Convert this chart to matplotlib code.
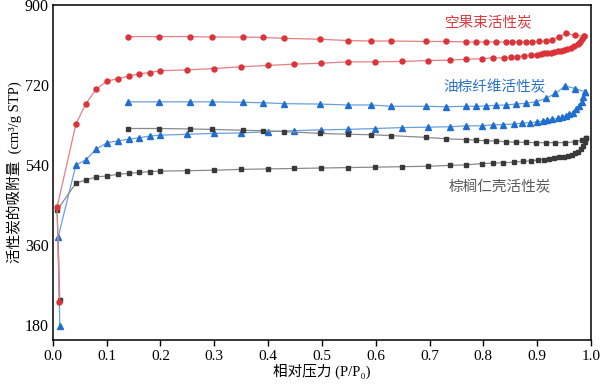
import matplotlib
matplotlib.use("Agg")
import matplotlib.pyplot as plt

# ---------------- data ----------------
red_ads_x = [0.012, 0.008, 0.043, 0.061, 0.081, 0.101, 0.121, 0.141, 0.160, 0.180, 0.200, 0.250, 0.299,
             0.350, 0.399, 0.449, 0.499, 0.548, 0.599, 0.648, 0.698, 0.738, 0.768, 0.797, 0.817,
             0.839, 0.851, 0.863, 0.876, 0.888, 0.899, 0.907, 0.913, 0.919, 0.925, 0.931, 0.938,
             0.944, 0.950, 0.956, 0.962, 0.968, 0.975, 0.980, 0.984, 0.987]
red_ads_y = [231, 445, 632, 677, 711, 729, 734, 740, 745, 748, 752, 754, 757,
             761, 764, 767, 769, 772, 772, 773, 775, 776, 778, 779, 781,
             781, 782, 784, 785, 787, 788, 790, 791, 792, 793, 794, 796,
             797, 799, 801, 804, 808, 812, 817, 823, 830]
red_des_x = [0.139, 0.197, 0.254, 0.295, 0.353, 0.391, 0.429, 0.497, 0.548, 0.591, 0.628, 0.693, 0.730,
             0.768, 0.786, 0.805, 0.823, 0.842, 0.854, 0.866, 0.879, 0.891, 0.904, 0.916, 0.928,
             0.941, 0.953, 0.970, 0.987]
red_des_y = [829, 829, 829, 828, 828, 827, 825, 823, 820, 819, 819, 818, 818,
             817, 817, 817, 817, 817, 817, 817, 817, 817, 818, 819, 822,
             829, 836, 832, 830]

blue_ads_x = [0.013, 0.010, 0.043, 0.061, 0.081, 0.101, 0.121, 0.141, 0.160, 0.180, 0.200, 0.250, 0.299,
              0.350, 0.399, 0.449, 0.499, 0.548, 0.599, 0.648, 0.698, 0.738, 0.768, 0.797, 0.817,
              0.837, 0.857, 0.871, 0.886, 0.900, 0.911, 0.919, 0.928, 0.938, 0.946, 0.953, 0.960,
              0.967, 0.973, 0.978, 0.983, 0.986, 0.988]
blue_ads_y = [177, 378, 540, 551, 576, 590, 594, 598, 601, 605, 607, 609, 611,
              612, 615, 617, 619, 620, 622, 624, 625, 626, 628, 628, 630,
              631, 632, 634, 635, 637, 639, 641, 643, 645, 647, 650, 654,
              658, 665, 673, 682, 694, 705]
blue_des_x = [0.139, 0.197, 0.254, 0.295, 0.353, 0.391, 0.429, 0.497, 0.548, 0.591, 0.628, 0.693, 0.730,
              0.768, 0.786, 0.805, 0.823, 0.842, 0.860, 0.879, 0.897, 0.916, 0.934, 0.952, 0.970, 0.988]
blue_des_y = [682, 682, 682, 682, 681, 680, 678, 677, 675, 675, 672, 672, 671,
              672, 672, 673, 674, 675, 677, 679, 682, 690, 701, 718, 712, 705]

black_ads_x = [0.013, 0.008, 0.043, 0.061, 0.081, 0.101, 0.121, 0.141, 0.160, 0.180, 0.200, 0.250, 0.299,
               0.350, 0.399, 0.449, 0.499, 0.548, 0.599, 0.648, 0.698, 0.738, 0.768, 0.797, 0.817,
               0.837, 0.857, 0.873, 0.888, 0.902, 0.913, 0.922, 0.931, 0.941, 0.950, 0.958, 0.965,
               0.971, 0.976, 0.981, 0.985, 0.988, 0.990]
black_ads_y = [236, 438, 499, 506, 513, 515, 519, 521, 523, 525, 526, 527, 528,
               530, 531, 532, 533, 534, 535, 536, 537, 539, 540, 543, 544,
               545, 546, 548, 549, 551, 552, 554, 555, 557, 558, 561, 563,
               566, 570, 575, 582, 592, 600]
black_des_x = [0.139, 0.197, 0.254, 0.295, 0.353, 0.391, 0.429, 0.497, 0.548, 0.591, 0.628, 0.693, 0.730,
               0.768, 0.786, 0.805, 0.823, 0.842, 0.860, 0.879, 0.897, 0.916, 0.934, 0.952, 0.970,
               0.983, 0.990]
black_des_y = [622, 622, 621, 620, 618, 617, 615, 611, 609, 608, 606, 602, 599,
               597, 596, 594, 594, 592, 591, 591, 590, 590, 590, 590, 592,
               596, 600]

labels = ["空果束活性炭", "油棕纤维活性炭", "棕榈仁壳活性炭"]
x_ticks = [0.0, 0.1, 0.2, 0.3, 0.4, 0.5, 0.6, 0.7, 0.8, 0.9, 1.0]
y_ticks = [180, 360, 540, 720, 900]

# ---------------- plot ----------------
serif = ["Liberation Serif", "Noto Sans CJK SC", "DejaVu Serif"]
cjk = ["Noto Sans CJK SC", "DejaVu Sans"]

fig = plt.figure(figsize=(6.0, 3.88), dpi=100)
ax = fig.add_axes([0.088, 0.124, 0.897, 0.863])

red_m, red_l = "#DC3339", "#E57F83"
blue_m, blue_l = "#1F6ED0", "#6A9FDB"
blk_m, blk_l = "#3A3A3A", "#8A8A8A"

for xs, ys in [(red_ads_x, red_ads_y), (red_des_x, red_des_y)]:
    ax.plot(xs, ys, color=red_l, lw=0.9, marker="o", ms=3.6, mfc=red_m, mec=red_m, zorder=3)
for xs, ys in [(blue_ads_x, blue_ads_y), (blue_des_x, blue_des_y)]:
    ax.plot(xs, ys, color=blue_l, lw=0.9, marker="^", ms=4.0, mfc=blue_m, mec=blue_m, zorder=2)
for xs, ys in [(black_ads_x, black_ads_y), (black_des_x, black_des_y)]:
    ax.plot(xs, ys, color=blk_l, lw=0.9, marker="s", ms=3.1, mfc=blk_m, mec=blk_m, zorder=2)

ax.text(0.81, 862, labels[0], color="#E0383D", fontsize=10.5, family=cjk, ha="center", va="center")
ax.text(0.82, 715, labels[1], color="#2B72C9", fontsize=10.5, family=cjk, ha="center", va="center")
ax.text(0.83, 490, labels[2], color="#5A5A5A", fontsize=10.5, family=cjk, ha="center", va="center")

ax.set_xlim(0, 1.0)
ax.set_ylim(146, 900)
ax.set_xticks(x_ticks)
ax.set_xticklabels([f"{v:.1f}" for v in x_ticks], family=serif, fontsize=11)
ax.set_yticks(y_ticks)
ax.set_yticklabels([str(v) for v in y_ticks], family=serif, fontsize=11.5)
ax.tick_params(axis="x", direction="out", length=4, width=1, pad=3)
ax.tick_params(axis="y", length=0, pad=3)
for s in ax.spines.values():
    s.set_linewidth(1.1)
    s.set_color("black")

ax.set_xlabel("相对压力 (P/P₀)", family=serif, fontsize=10.5, labelpad=1)
ax.set_ylabel("活性炭的吸附量  (cm³/g STP)", family=serif, fontsize=10.5, labelpad=2)

fig.savefig("out.png", dpi=100)
